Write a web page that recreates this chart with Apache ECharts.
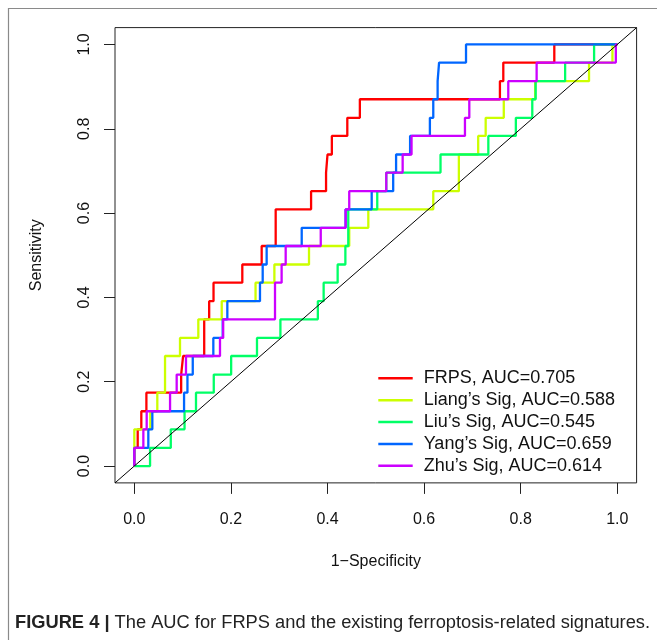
<!DOCTYPE html>
<html><head><meta charset="utf-8">
<script src="https://cdn.jsdelivr.net/npm/echarts@6/dist/echarts.min.js"></script>
<style>html,body{margin:0;padding:0;background:#fff}#c{width:657px;height:640px}</style>
</head><body><div id="c"></div>
<script>
// ---- data (1-specificity, sensitivity at each step) ----
const seriesNames = ['FRPS, AUC=0.705', 'Liang\u2019s Sig, AUC=0.588', 'Liu\u2019s Sig, AUC=0.545', 'Yang\u2019s Sig, AUC=0.659', 'Zhu\u2019s Sig, AUC=0.614'];
const seriesColors = ['#FF0000', '#CCFF00', '#00FF66', '#0066FF', '#CC00FF'];

const frpsFpr = [0, 0, 0.007, 0.0145, 0.025, 0.097, 0.101, 0.1447, 0.155, 0.164, 0.2236, 0.2637, 0.2927, 0.366, 0.397, 0.400, 0.409, 0.441, 0.467, 0.757, 0.764, 0.8696, 1];
const frpsTpr = [0, 0.043, 0.087, 0.130, 0.174, 0.217, 0.261, 0.348, 0.391, 0.435, 0.478, 0.522, 0.609, 0.652, 0.696, 0.739, 0.783, 0.826, 0.870, 0.913, 0.957, 1, 1];

const liangFpr = [0, 0, 0.033, 0.0476, 0.0636, 0.0946, 0.1325, 0.181, 0.251, 0.29, 0.3617, 0.445, 0.4845, 0.619, 0.672, 0.712, 0.7275, 0.765, 0.83, 0.9415, 0.990, 1];
const liangTpr = [0, 0.087, 0.130, 0.174, 0.261, 0.304, 0.348, 0.391, 0.435, 0.478, 0.522, 0.565, 0.609, 0.652, 0.739, 0.783, 0.826, 0.870, 0.913, 0.957, 1, 1];

const liuFpr = [0, 0.0326, 0.0755, 0.104, 0.1277, 0.1645, 0.2005, 0.254, 0.3025, 0.38, 0.392, 0.421, 0.437, 0.443, 0.503, 0.5217, 0.634, 0.733, 0.79, 0.824, 0.831, 0.892, 0.952, 1];
const liuTpr = [0, 0.043, 0.087, 0.130, 0.174, 0.217, 0.261, 0.304, 0.348, 0.391, 0.435, 0.478, 0.522, 0.609, 0.652, 0.696, 0.739, 0.783, 0.826, 0.870, 0.913, 0.957, 1, 1];

const yangFpr = [0, 0, 0.029, 0.0373, 0.103, 0.11, 0.121, 0.1636, 0.183, 0.1926, 0.2602, 0.2658, 0.274, 0.3466, 0.4375, 0.4915, 0.536, 0.542, 0.571, 0.612, 0.619, 0.628, 0.631, 0.6868, 1];
const yangTpr = [0, 0.043, 0.087, 0.130, 0.174, 0.217, 0.261, 0.304, 0.348, 0.391, 0.435, 0.478, 0.522, 0.565, 0.609, 0.652, 0.696, 0.739, 0.783, 0.826, 0.870, 0.913, 0.957, 1, 1];

const zhuFpr = [0, 0, 0.0187, 0.0256, 0.074, 0.0877, 0.107, 0.1774, 0.184, 0.2913, 0.305, 0.3134, 0.386, 0.4375, 0.445, 0.5217, 0.5556, 0.574, 0.6846, 0.6936, 0.7743, 0.833, 0.997, 1];
const zhuTpr = [0, 0.043, 0.087, 0.130, 0.174, 0.217, 0.261, 0.304, 0.348, 0.435, 0.478, 0.522, 0.565, 0.609, 0.652, 0.696, 0.739, 0.783, 0.826, 0.870, 0.913, 0.957, 1, 1];

const tickValues = [0, 0.2, 0.4, 0.6, 0.8, 1.0];
const tickLabels = ['0.0', '0.2', '0.4', '0.6', '0.8', '1.0'];
const diagonal = [[-0.04, -0.04], [1.04, 1.04]];
const xTitle = '1\u2212Specificity';
const yTitle = 'Sensitivity';
const captionBold = 'FIGURE 4 |';
const captionText = ' The AUC for FRPS and the existing ferroptosis-related signatures.';

const curves = [[frpsFpr, frpsTpr], [liangFpr, liangTpr], [liuFpr, liuTpr], [yangFpr, yangTpr], [zhuFpr, zhuTpr]];

const FONT = '"Liberation Sans", Arial, Helvetica, sans-serif';
const chart = echarts.init(document.getElementById('c'), null, {renderer: 'canvas'});

function fmt(v) {
  const i = tickValues.findIndex(t => Math.abs(t - v) < 1e-9);
  return i >= 0 ? tickLabels[i] : '';
}

const axisCommon = {
  type: 'value', min: -0.04, max: 1.04,
  splitLine: {show: false},
  axisLine: {show: false, onZero: false},
  axisTick: {show: true, inside: false, customValues: tickValues, length: 11, lineStyle: {color: '#222', width: 1}},
  nameLocation: 'middle',
  nameTextStyle: {fontFamily: FONT, fontSize: 16, color: '#111'}
};

const series = curves.map((c, i) => ({
  type: 'line', name: seriesNames[i], step: 'end',
  data: c[0].map((x, j) => [x, c[1][j]]),
  showSymbol: false, symbol: 'none',
  color: seriesColors[i],
  lineStyle: {color: seriesColors[i], width: 2.3},
  z: 2 + i, animation: false
}));
series.push({
  type: 'line', name: 'diag', data: diagonal, showSymbol: false, symbol: 'none',
  lineStyle: {color: '#000', width: 1}, z: 10, animation: false, silent: true
});

chart.setOption({
  animation: false,
  backgroundColor: '#fff',
  grid: {left: 115, top: 27.6, width: 521.6, height: 455.3, show: true, borderColor: '#222', borderWidth: 1, containLabel: false},
  xAxis: Object.assign({}, axisCommon, {
    name: xTitle, nameGap: 71,
    axisLabel: {customValues: tickValues, formatter: fmt, margin: 29, fontFamily: FONT, fontSize: 16, color: '#111'}
  }),
  yAxis: Object.assign({}, axisCommon, {
    name: yTitle, nameRotate: 90, nameGap: 70,
    axisLabel: {customValues: tickValues, formatter: fmt, rotate: 90, margin: 22, fontFamily: FONT, fontSize: 16, color: '#111'}
  }),
  legend: {
    data: seriesNames, orient: 'vertical', left: 373.3, top: 362.4,
    icon: 'rect', itemWidth: 34.4, itemHeight: 2.5, itemGap: 0,
    textStyle: {fontFamily: FONT, fontSize: 18, color: '#111', lineHeight: 21.85, padding: [0, 0, 0, 6]},
    selectedMode: false
  },
  series: series,
  graphic: [
    {type: 'rect', shape: {x: 8.5, y: 8.5, width: 760, height: 760}, style: {fill: 'none', stroke: '#8a8a8a', lineWidth: 1.2}, z: -1, silent: true},
    {type: 'text', left: 15, top: 614, style: {
      text: '{b|' + captionBold + '}{r|' + captionText + '}',
      rich: {
        b: {fontFamily: FONT, fontSize: 18.3, fontWeight: 'bold', fill: '#222'},
        r: {fontFamily: FONT, fontSize: 18.3, fill: '#222'}
      }
    }}
  ]
});
</script></body></html>
